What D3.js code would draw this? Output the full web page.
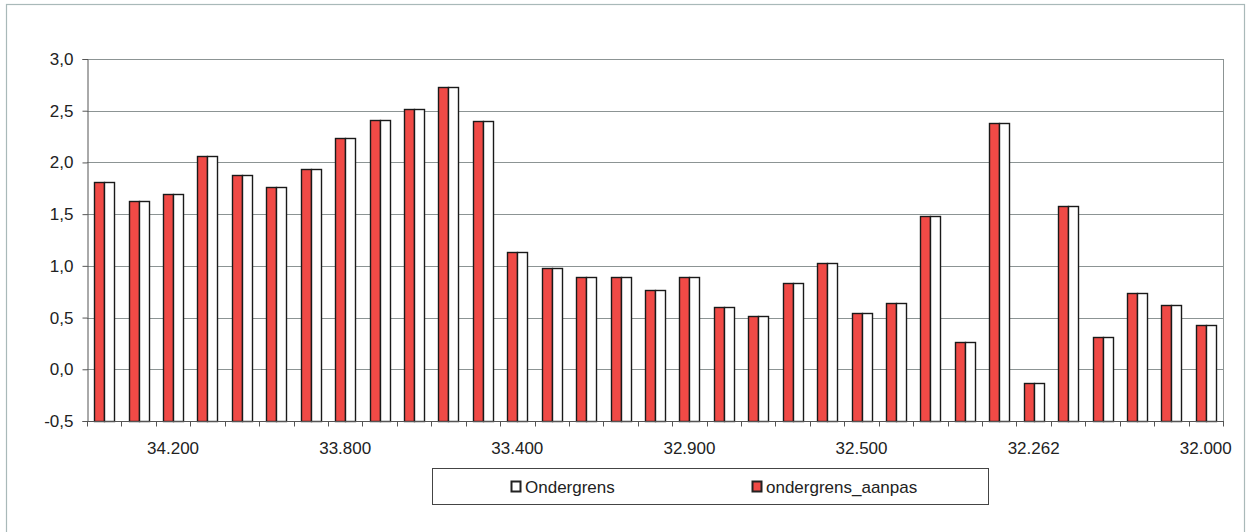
<!DOCTYPE html>
<html>
<head>
<meta charset="utf-8">
<script src="https://cdn.jsdelivr.net/npm/d3@7"></script>
<style>
  html, body { margin: 0; padding: 0; background: #fff; }
  svg { display: block; }
  text { font-family: "Liberation Sans", Arial, sans-serif; fill: #222; }
</style>
</head>
<body>
<svg id="chart" width="1250" height="532"></svg>
<script>
// ---- data ----
const categories = [
  "", "", "34.200", "", "", "", "", "33.800", "", "", "", "",
  "33.400", "", "", "", "", "32.900", "", "", "", "", "32.500",
  "", "", "", "", "32.262", "", "", "", "", "32.000"
];
const ondergrensAanpas = [
  1.81, 1.63, 1.69, 2.06, 1.88, 1.76, 1.94, 2.24, 2.41, 2.52, 2.73, 2.40,
  1.13, 0.98, 0.89, 0.89, 0.77, 0.89, 0.60, 0.52, 0.83, 1.03, 0.54,
  0.64, 1.48, 0.26, 2.38, -0.13, 1.58, 0.31, 0.74, 0.62, 0.43
];
const ondergrens = [
  1.81, 1.63, 1.69, 2.06, 1.88, 1.76, 1.94, 2.24, 2.41, 2.52, 2.73, 2.40,
  1.13, 0.98, 0.89, 0.89, 0.77, 0.89, 0.60, 0.52, 0.83, 1.03, 0.54,
  0.64, 1.48, 0.26, 2.38, -0.13, 1.58, 0.31, 0.74, 0.62, 0.43
];
const yTicks = [-0.5, 0, 0.5, 1.0, 1.5, 2.0, 2.5, 3.0];
const seriesNames = ["Ondergrens", "ondergrens_aanpas"];
const seriesColors = {"Ondergrens": "#ffffff", "ondergrens_aanpas": "#f04a46"};

// ---- layout ----
const svg = d3.select("#chart");
const plot = {left: 87, right: 1223, top: 59, bottom: 421};
const FS = 17;

// outer frame
svg.append("rect")
  .attr("x", 6.5).attr("y", 4.5).attr("width", 1238).attr("height", 540)
  .attr("fill", "none").attr("stroke", "#a9b9b9").attr("stroke-width", 1.2);

const x = d3.scaleBand()
  .domain(d3.range(categories.length))
  .range([plot.left, plot.right])
  .paddingInner(0).paddingOuter(0);

const y = d3.scaleLinear().domain([-0.5, 3.0]).range([plot.bottom, plot.top]);

const fmt = v => d3.format(".1f")(v).replace(".", ",").replace("\u2212", "-");

// gridlines
svg.append("g").selectAll("line").data(yTicks.filter(t => t > -0.5)).join("line")
  .attr("x1", plot.left).attr("x2", plot.right)
  .attr("y1", d => Math.round(y(d)) + 0.5).attr("y2", d => Math.round(y(d)) + 0.5)
  .attr("stroke", "#8c9494").attr("stroke-width", 1);

// right border of plot
svg.append("line")
  .attr("x1", plot.right + 0.5).attr("x2", plot.right + 0.5)
  .attr("y1", plot.top).attr("y2", plot.bottom)
  .attr("stroke", "#8c9494");

// bars
const groupW = 20;
const barW = groupW / 2;
const order = ["ondergrens_aanpas", "Ondergrens"];
const valuesBySeries = {"Ondergrens": ondergrens, "ondergrens_aanpas": ondergrensAanpas};
const sub = d3.scaleBand().domain(order).range([0, groupW]);

order.forEach(name => {
  svg.append("g").selectAll("rect").data(valuesBySeries[name]).join("rect")
    .attr("x", (d, i) => Math.round(x(i) + x.bandwidth() / 2 - groupW / 2 + sub(name)) + 0.5)
    .attr("y", d => Math.round(y(d)) + 0.5)
    .attr("width", barW)
    .attr("height", d => Math.round(y(-0.5)) - Math.round(y(d)))
    .attr("fill", seriesColors[name])
    .attr("stroke", "#1a1a1a")
    .attr("stroke-width", 1.4);
});

// y axis
const yAxis = d3.axisLeft(y).tickValues(yTicks).tickFormat(fmt).tickSize(5).tickPadding(9);
const gy = svg.append("g").attr("transform", `translate(${plot.left + 0.5},0)`).call(yAxis);
gy.select(".domain").attr("stroke", "#555");
gy.selectAll(".tick line").attr("stroke", "#555");
gy.selectAll(".tick text").attr("font-size", FS).attr("fill", "#333")
  .attr("font-family", "'Liberation Sans', Arial, sans-serif");

// x axis (ticks at category boundaries)
const gx = svg.append("g").attr("transform", `translate(0,${plot.bottom + 0.5})`);
gx.append("line").attr("x1", plot.left).attr("x2", plot.right + 1)
  .attr("stroke", "#555");
gx.selectAll("line.tk").data(d3.range(categories.length + 1)).join("line")
  .attr("class", "tk")
  .attr("x1", i => Math.round(i < categories.length ? x(i) : plot.right) + 0.5)
  .attr("x2", i => Math.round(i < categories.length ? x(i) : plot.right) + 0.5)
  .attr("y1", 0).attr("y2", 5)
  .attr("stroke", "#555");
gx.selectAll("text").data(categories.map((c, i) => ({c, i})).filter(d => d.c !== "")).join("text")
  .attr("x", d => x(d.i) + x.bandwidth() / 2)
  .attr("y", 32)
  .attr("text-anchor", "middle")
  .attr("font-size", FS)
  .attr("fill", "#333")
  .text(d => d.c);

// legend
const lg = svg.append("g");
lg.append("rect").attr("x", 432.5).attr("y", 468.5).attr("width", 556).attr("height", 36)
  .attr("fill", "#fff").attr("stroke", "#444").attr("stroke-width", 1);
const legendX = {"Ondergrens": 511, "ondergrens_aanpas": 752};
seriesNames.forEach(name => {
  lg.append("rect").attr("x", legendX[name] + 0.5).attr("y", 481.5)
    .attr("width", 9).attr("height", 10)
    .attr("fill", seriesColors[name]).attr("stroke", "#222").attr("stroke-width", 2);
  lg.append("text").attr("x", legendX[name] + 14).attr("y", 492.5)
    .attr("font-size", FS).attr("fill", "#333").text(name);
});
</script>
</body>
</html>
